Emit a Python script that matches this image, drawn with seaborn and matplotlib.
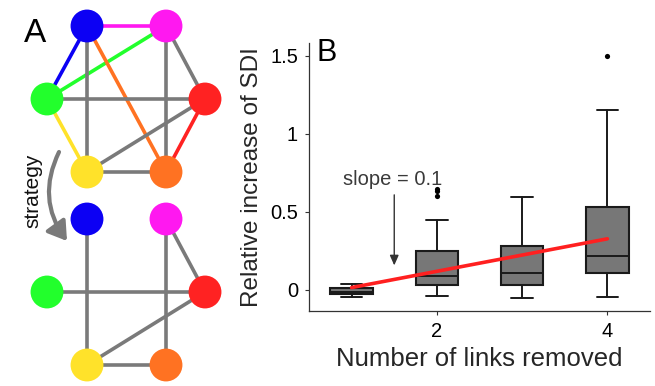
import matplotlib
matplotlib.use("Agg")
import matplotlib.pyplot as plt
from matplotlib.patches import FancyArrowPatch
import seaborn as sns
import pandas as pd
import numpy as np

sns.set_theme(style="ticks")
plt.rcParams['font.family'] = ['Liberation Sans', 'DejaVu Sans']

# ---------------- Data ----------------
links_removed = [1, 2, 3, 4]
whisker_low = [-0.043, -0.036, -0.049, -0.047]
q1 = [-0.028, 0.030, 0.030, 0.111]
median = [-0.011, 0.092, 0.111, 0.218]
q3 = [0.011, 0.248, 0.282, 0.528]
whisker_high = [0.038, 0.449, 0.592, 1.154]
outlier_x = [2, 2, 2, 4]
outlier_y = [0.598, 0.632, 0.647, 1.496]
fit_x = [1, 4]
fit_y = [0.015, 0.327]
slope_text = "slope = 0.1"
x_ticks = [2, 4]
y_ticks = [0, 0.5, 1, 1.5]
y_ticklabels = ["0", "0.5", "1", "1.5"]

# network (panel A)
node_names = ["blue", "magenta", "green", "red", "yellow", "orange"]
node_colors = ["#0c00f4", "#ff18f0", "#22ff2c", "#ff2222", "#ffe22a", "#ff7222"]
edges_before = [("blue", "magenta", "#ff18f0"), ("blue", "green", "#0c00f4"),
                ("green", "magenta", "#22ff2c"), ("blue", "orange", "#ff7222"),
                ("blue", "yellow", "#7a7a7a"), ("magenta", "orange", "#7a7a7a"),
                ("magenta", "red", "#7a7a7a"), ("green", "red", "#7a7a7a"),
                ("green", "yellow", "#ffe22a"), ("yellow", "red", "#7a7a7a"),
                ("yellow", "orange", "#7a7a7a"), ("red", "orange", "#ff2222")]
edges_after = [("blue", "yellow"), ("magenta", "orange"), ("magenta", "red"),
               ("green", "red"), ("yellow", "red"), ("yellow", "orange")]

# layout (pixel space of panel A)
layout = {"blue": (87, 26), "magenta": (166, 26), "green": (47, 99),
          "red": (205, 99), "yellow": (87, 172), "orange": (166, 172)}
dy_after = 193

fig = plt.figure(figsize=(6.55, 3.86), dpi=100)

# ---------------- Panel A ----------------
axA = fig.add_axes([0, 0, 236 / 655, 1])
axA.set_xlim(0, 236)
axA.set_ylim(386, 0)
axA.axis("off")

def draw_net(edges, offset, colored):
    for e in edges:
        a, b = e[0], e[1]
        col = e[2] if colored else "#7a7a7a"
        xa, ya = layout[a]
        xb, yb = layout[b]
        axA.plot([xa, xb], [ya + offset, yb + offset], color=col, lw=2.6,
                 solid_capstyle="butt", zorder=1)
    df = pd.DataFrame({"x": [layout[n][0] for n in node_names],
                       "y": [layout[n][1] + offset for n in node_names],
                       "node": node_names})
    sns.scatterplot(data=df, x="x", y="y", hue="node", palette=node_colors,
                    s=560, linewidth=0, legend=False, ax=axA, zorder=3)

draw_net(edges_before, 0, True)
draw_net(edges_after, dy_after, False)
axA.set_xlim(0, 236)
axA.set_ylim(386, 0)
axA.set_xlabel("")
axA.set_ylabel("")

axA.text(35, 34, "A", fontsize=24, ha="center", va="center", color="black")
axA.text(33, 191, "strategy", fontsize=15, rotation=90, ha="center",
         va="center", color="#111111")
arrow = FancyArrowPatch((59, 152), (67, 241), connectionstyle="arc3,rad=0.3",
                        arrowstyle="-|>,head_length=11,head_width=7",
                        color="#7a7a7a", lw=3.0, mutation_scale=1,
                        shrinkA=0, shrinkB=0, zorder=2)
axA.add_patch(arrow)

# ---------------- Panel B ----------------
axB = fig.add_axes([309 / 655, 1 - 311 / 386, (650 - 309) / 655, (311 - 43) / 386])
stats = []
for i in range(len(links_removed)):
    stats.append({"med": median[i], "q1": q1[i], "q3": q3[i],
                  "whislo": whisker_low[i], "whishi": whisker_high[i],
                  "fliers": []})
axB.bxp(stats, positions=links_removed, widths=0.5, patch_artist=True,
        showfliers=False,
        boxprops=dict(facecolor="#777777", edgecolor="#1a1a1a", linewidth=1.5),
        medianprops=dict(color="#1a1a1a", linewidth=1.4),
        whiskerprops=dict(color="#1a1a1a", linewidth=1.4),
        capprops=dict(color="#1a1a1a", linewidth=1.4))
sns.scatterplot(x=outlier_x, y=outlier_y, color="black", s=14, linewidth=0,
                ax=axB, zorder=4)
sns.lineplot(x=fit_x, y=fit_y, color="#ff2020", lw=2.6, ax=axB, zorder=5)

axB.annotate("", xy=(1.5, 0.139), xytext=(1.5, 0.626),
             arrowprops=dict(arrowstyle="-|>,head_length=0.5,head_width=0.22",
                             color="#333333", lw=1.0))
axB.text(1.48, 0.705, slope_text, fontsize=14.5, ha="center", va="center",
         color="#3a3a3a")

axB.set_xlim(0.5, 4.5)
axB.set_ylim(-0.135, 1.58)
axB.set_xticks(x_ticks)
axB.set_xticklabels([str(t) for t in x_ticks])
axB.set_yticks(y_ticks)
axB.set_yticklabels(y_ticklabels)
axB.tick_params(axis="both", labelsize=14.5, length=3, width=0.8,
                color="#333333", labelcolor="black", pad=5)
axB.set_xlabel("Number of links removed", fontsize=18.5, labelpad=4)
axB.set_ylabel("Relative increase of SDI", fontsize=17.5, labelpad=5)
sns.despine(ax=axB)
for s in ["left", "bottom"]:
    axB.spines[s].set_color("#333333")
    axB.spines[s].set_linewidth(0.9)
fig.text(327 / 655, 1 - 53 / 386, "B", fontsize=22, ha="center",
         va="center", color="black")

fig.savefig("out.png", dpi=100)
